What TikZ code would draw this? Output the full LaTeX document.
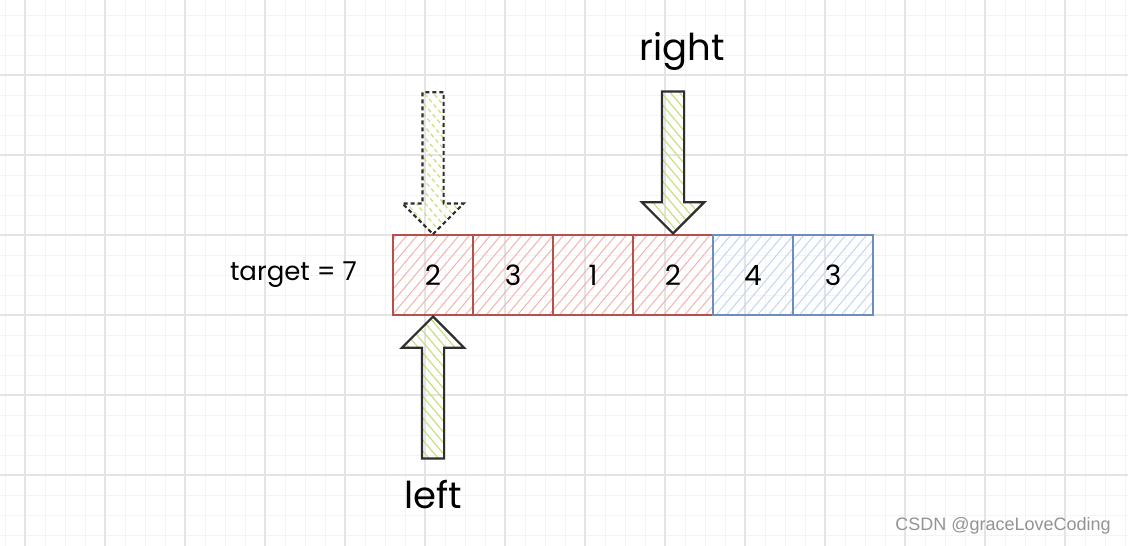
\documentclass[tikz,border=0pt]{standalone}
\usepackage{fontspec}
\setmainfont{Poppins}
\newfontfamily\markfont{Liberation Sans}
\usetikzlibrary{positioning,patterns.meta,shapes.arrows}

\definecolor{gridmajor}{HTML}{E4E4E4}
\definecolor{gridminor}{HTML}{F4F4F4}
\definecolor{cellred}{HTML}{B5504A}
\definecolor{hatchred}{HTML}{F2B4B0}
\definecolor{cellblue}{HTML}{6C8EBF}
\definecolor{hatchblue}{HTML}{C2D5F2}
\definecolor{hatchgreen}{HTML}{C5E27E}
\definecolor{arrowline}{HTML}{2E2E2E}

\tikzset{
  cell/.style={minimum width=80pt, minimum height=80pt, inner sep=0pt,
    outer sep=0pt, line width=2.2pt, font=\fontsize{28}{32}\selectfont},
  redcell/.style={cell, draw=cellred, pattern color=hatchred,
    pattern={Lines[angle=50, distance=8pt, line width=1pt]}},
  bluecell/.style={cell, draw=cellblue, pattern color=hatchblue,
    pattern={Lines[angle=50, distance=8pt, line width=1pt]}},
  ptr/.style={single arrow, draw=arrowline, line width=2.2pt,
    minimum height=142pt, inner xsep=0pt, inner ysep=10pt,
    single arrow head extend=20pt, single arrow tip angle=90,
    pattern color=hatchgreen,
    pattern={Lines[angle=-50, distance=7pt, line width=1.2pt]}},
  ptrlabel/.style={font=\fontsize{37}{40}\selectfont, inner sep=0pt}
}

\begin{document}
\begin{tikzpicture}[x=1pt, y=-1pt]
  \useasboundingbox (0,0) rectangle (1128,546);
  \fill[white] (0,0) rectangle (1128,546);

  % grid
  \foreach \x in {5,25,...,1125} \draw[gridminor, line width=1pt] (\x,0) -- (\x,546);
  \foreach \y in {15,35,...,545} \draw[gridminor, line width=1pt] (0,\y) -- (1128,\y);
  \foreach \x in {25,105,...,1105} \draw[gridmajor, line width=1.6pt] (\x,0) -- (\x,546);
  \foreach \y in {75,155,...,475} \draw[gridmajor, line width=1.6pt] (0,\y) -- (1128,\y);

  % array
  \node[redcell] (n1) at (433,275) {2};
  \node[redcell, right=0pt of n1] (n2) {3};
  \node[redcell, right=0pt of n2] (n3) {1};
  \node[redcell, right=0pt of n3] (n4) {2};
  \node[bluecell, right=0pt of n4] (n5) {4};
  \node[bluecell, right=0pt of n5] (n6) {3};

  \node[left=36pt of n1, font=\fontsize{26}{30}\selectfont, inner sep=0pt] (tgt) {target = 7};

  % pointers
  \node[ptr, dash pattern=on 4pt off 3pt, rotate=-90, anchor=tip] (pold) at (n1.north) {};
  \node[ptr, rotate=-90, anchor=tip] (pr) at (n4.north) {};
  \node[ptr, rotate=90, anchor=tip] (pl) at (n1.south) {};

  \node[ptrlabel, above=20pt of pr.tail, xshift=9pt] (rlabel) {right};
  \node[ptrlabel, below=20pt of pl.tail] (llabel) {left};

  \node[font=\markfont\fontsize{18}{21}\selectfont, text=gray!85, inner sep=0pt] (mark) at (1003,526) {CSDN @graceLoveCoding};
\end{tikzpicture}
\end{document}
